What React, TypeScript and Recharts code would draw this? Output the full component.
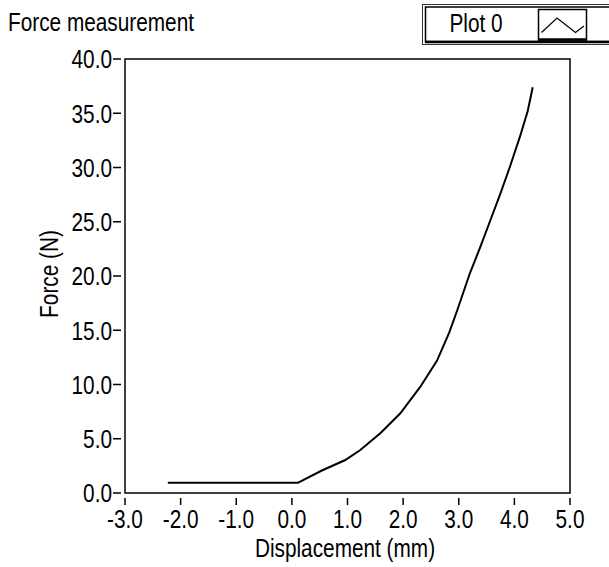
import { LineChart, Line, XAxis, YAxis, ReferenceArea } from 'recharts'

// displacement (mm) and force (N)
const displacement = [-2.23, 0.11, 0.15, 0.53, 0.96, 1.23, 1.59, 1.95, 2.31, 2.61, 2.83, 2.97, 3.2, 3.39, 3.57, 3.75, 3.92, 4.1, 4.24, 4.33]
const force = [0.95, 0.95, 1.04, 2.05, 3.04, 3.96, 5.5, 7.35, 9.8, 12.2, 14.8, 16.8, 20.25, 22.7, 25.16, 27.62, 30.07, 32.84, 35.2, 37.39]

const xTicks = [-3, -2, -1, 0, 1, 2, 3, 4, 5]
const yTicks = [0, 5, 10, 15, 20, 25, 30, 35, 40]

const chartTitle = 'Force measurement'
const legendName = 'Plot 0'
const xTitle = 'Displacement (mm)'
const yTitle = 'Force (N)'

// no Helvetica Narrow here, so squeeze Liberation Sans sideways
const FONT = "'Liberation Sans', Arial, sans-serif"
const FS = 26
const SQUEEZE = 0.8

type NTextProps = {
  x: number
  y: number
  anchor?: 'start' | 'middle' | 'end'
  rotate?: number
  dy?: string
  children: React.ReactNode
}

const NText = ({ x, y, anchor = 'start', rotate = 0, dy, children }: NTextProps) => (
  <text
    x={0}
    y={0}
    dy={dy}
    transform={`translate(${x} ${y}) rotate(${rotate}) scale(${SQUEEZE} 1)`}
    textAnchor={anchor}
    fontFamily={FONT}
    fontSize={FS}
    fill="#000"
  >
    {children}
  </text>
)

const data = displacement.map((d, i) => ({ x: d, y: force[i] }))

// eslint-disable-next-line @typescript-eslint/no-explicit-any
const XTick = ({ x, y, payload }: any) => (
  <g>
    <line x1={x} x2={x} y1={y + 5} y2={y + 12} stroke="#000" strokeWidth={1.5} />
    <NText x={x} y={y + 35} anchor="middle">{payload.value.toFixed(1)}</NText>
  </g>
)

// eslint-disable-next-line @typescript-eslint/no-explicit-any
const YTick = ({ x, y, payload }: any) => (
  <g>
    <line x1={x - 12} x2={x - 4} y1={y} y2={y} stroke="#000" strokeWidth={1.5} />
    <NText x={x - 13} y={y} dy="0.36em" anchor="end">{payload.value.toFixed(1)}</NText>
  </g>
)

export default function App() {
  return (
    <div style={{ position: 'absolute', left: 0, top: 0, width: 609, height: 567, background: '#fff', overflow: 'hidden' }}>
      <LineChart
        width={609}
        height={567}
        data={data}
        margin={{ top: 59, right: 39, bottom: 24, left: 45 }}
      >
        <XAxis
          type="number"
          dataKey="x"
          domain={[-3, 5]}
          ticks={xTicks}
          axisLine={false}
          tickLine={false}
          tickSize={0}
          tickMargin={0}
          height={50}
          tick={<XTick />}
          interval={0}
        />
        <YAxis
          type="number"
          domain={[0, 40]}
          ticks={yTicks}
          axisLine={false}
          tickLine={false}
          tickSize={0}
          tickMargin={0}
          width={80}
          tick={<YTick />}
          interval={0}
        />
        <ReferenceArea x1={-3} x2={5} y1={0} y2={40} fill="none" stroke="#000" strokeWidth={1.5} ifOverflow="visible" />
        <Line
          type="linear"
          dataKey="y"
          stroke="#000"
          strokeWidth={2}
          dot={false}
          isAnimationActive={false}
        />
      </LineChart>

      <svg width={609} height={567} style={{ position: 'absolute', left: 0, top: 0, pointerEvents: 'none' }}>
        <NText x={8} y={31}>{chartTitle}</NText>
        <NText x={345} y={557} anchor="middle">{xTitle}</NText>
        <NText x={58} y={274} anchor="middle" rotate={-90}>{yTitle}</NText>

        {/* legend box */}
        <rect x={422.5} y={4.5} width={200} height={40} fill="#fff" stroke="#333" strokeWidth={1} />
        <rect x={425.5} y={7} width={200} height={34.5} fill="#fff" stroke="#000" strokeWidth={1.5} />
        <line x1={425} x2={609} y1={42} y2={42} stroke="#000" strokeWidth={2.5} />
        <NText x={476} y={31.5} anchor="middle">{legendName}</NText>
        <rect x={538.5} y={9.5} width={48} height={30.5} fill="#fff" stroke="#000" strokeWidth={1.5} />
        <line x1={538} x2={587} y1={39.5} y2={39.5} stroke="#000" strokeWidth={2.5} />
        <polyline points="541.5,32.5 557,18 575.5,32.5 584,26" fill="none" stroke="#000" strokeWidth={1.2} />
      </svg>
    </div>
  )
}
